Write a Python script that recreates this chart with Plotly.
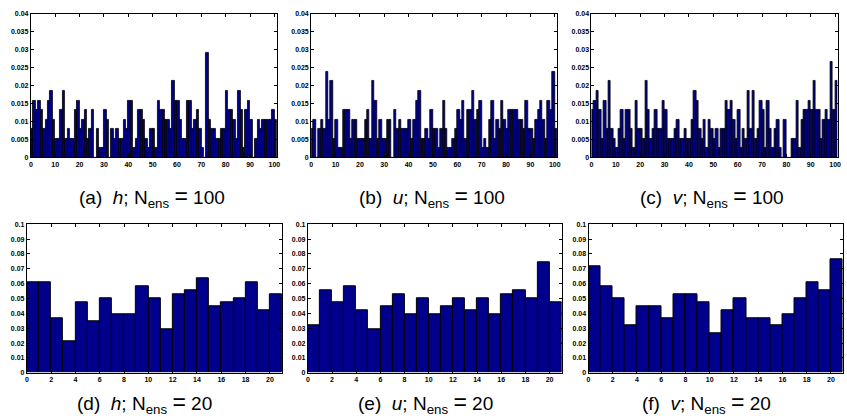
import plotly.graph_objects as go

# ---- data: relative frequency of each rank (rank histograms) ----
ranks_100 = list(range(101))
ranks_20 = list(range(21))

h_100 = [0.0079, 0.0159, 0.0132, 0.0159, 0.0132, 0.0079, 0.0106, 0.0159, 0.0185, 0.0106,
         0.0053, 0.0053, 0.0132, 0.0185, 0.0053, 0.0079, 0.0053, 0.0053, 0.0132, 0.0159,
         0.0079, 0.0106, 0.0132, 0.0053, 0.0079, 0.0132, 0.0, 0.0079, 0.0026, 0.0026,
         0.0132, 0.0106, 0.0, 0.0079, 0.0053, 0.0079, 0.0053, 0.0053, 0.0106, 0.0079,
         0.0159, 0.0159, 0.0026, 0.0053, 0.0132, 0.0132, 0.0106, 0.0053, 0.0026, 0.0079,
         0.0079, 0.0026, 0.0159, 0.0132, 0.0132, 0.0106, 0.0106, 0.0079, 0.0212, 0.0159,
         0.0159, 0.0106, 0.0053, 0.0053, 0.0159, 0.0159, 0.0079, 0.0106, 0.0132, 0.0079,
         0.0026, 0.0, 0.0291, 0.0106, 0.0079, 0.0079, 0.0053, 0.0053, 0.0079, 0.0079,
         0.0185, 0.0132, 0.0132, 0.0106, 0.0053, 0.0185, 0.0132, 0.0026, 0.0132, 0.0159,
         0.0106, 0.0, 0.0053, 0.0106, 0.0079, 0.0106, 0.0106, 0.0106, 0.0106, 0.0132, 0.0106]

u_100 = [0.0079, 0.0106, 0.0, 0.0079, 0.0106, 0.0079, 0.0238, 0.0106, 0.0212, 0.0053,
         0.0106, 0.0026, 0.0026, 0.0132, 0.0132, 0.0132, 0.0053, 0.0106, 0.0106, 0.0053,
         0.0053, 0.0053, 0.0106, 0.0132, 0.0053, 0.0212, 0.0159, 0.0053, 0.0106, 0.0053,
         0.0053, 0.0106, 0.0106, 0.0, 0.0132, 0.0079, 0.0106, 0.0079, 0.0079, 0.0079,
         0.0106, 0.0053, 0.0106, 0.0159, 0.0185, 0.0053, 0.0053, 0.0079, 0.0053, 0.0132,
         0.0079, 0.0079, 0.0026, 0.0079, 0.0159, 0.0079, 0.0026, 0.0026, 0.0053, 0.0079,
         0.0132, 0.0106, 0.0159, 0.0053, 0.0132, 0.0132, 0.0185, 0.0106, 0.0132, 0.0159,
         0.0026, 0.0053, 0.0026, 0.0106, 0.0159, 0.0053, 0.0106, 0.0079, 0.0159, 0.0106,
         0.0079, 0.0132, 0.0132, 0.0132, 0.0132, 0.0106, 0.0106, 0.0079, 0.0159, 0.0079,
         0.0079, 0.0053, 0.0106, 0.0132, 0.0159, 0.0106, 0.0053, 0.0159, 0.0132, 0.0238, 0.0079]

v_100 = [0.0132, 0.0159, 0.0185, 0.0132, 0.0053, 0.0159, 0.0079, 0.0212, 0.0079, 0.0053,
         0.0026, 0.0079, 0.0132, 0.0053, 0.0132, 0.0132, 0.0079, 0.0026, 0.0159, 0.0079,
         0.0079, 0.0053, 0.0212, 0.0132, 0.0053, 0.0079, 0.0132, 0.0079, 0.0079, 0.0159,
         0.0132, 0.0053, 0.0053, 0.0053, 0.0079, 0.0106, 0.0053, 0.0053, 0.0079, 0.0053,
         0.0053, 0.0106, 0.0185, 0.0159, 0.0079, 0.0053, 0.0106, 0.0026, 0.0106, 0.0079,
         0.0053, 0.0079, 0.0026, 0.0079, 0.0079, 0.0159, 0.0132, 0.0159, 0.0106, 0.0053,
         0.0132, 0.0026, 0.0079, 0.0053, 0.0185, 0.0079, 0.0185, 0.0053, 0.0079, 0.0159,
         0.0132, 0.0026, 0.0159, 0.0079, 0.0026, 0.0079, 0.0106, 0.0026, 0.0, 0.0106,
         0.0, 0.0, 0.0053, 0.0053, 0.0159, 0.0026, 0.0106, 0.0132, 0.0132, 0.0159,
         0.0132, 0.0212, 0.0132, 0.0132, 0.0053, 0.0106, 0.0132, 0.0106, 0.0265, 0.0132, 0.0212]

h_20 = [0.0608, 0.0608, 0.0370, 0.0212, 0.0476, 0.0344, 0.0503, 0.0397, 0.0397, 0.0582, 0.0503,
        0.0291, 0.0529, 0.0556, 0.0635, 0.0450, 0.0476, 0.0503, 0.0608, 0.0423, 0.0529]
u_20 = [0.0317, 0.0556, 0.0476, 0.0582, 0.0423, 0.0291, 0.0450, 0.0529, 0.0397, 0.0503, 0.0397,
        0.0450, 0.0503, 0.0423, 0.0503, 0.0397, 0.0529, 0.0556, 0.0503, 0.0741, 0.0476]
v_20 = [0.0714, 0.0582, 0.0503, 0.0317, 0.0450, 0.0450, 0.0370, 0.0529, 0.0529, 0.0476, 0.0265,
        0.0423, 0.0503, 0.0370, 0.0370, 0.0317, 0.0397, 0.0503, 0.0608, 0.0556, 0.0767]

EQ = "<span style='font-size:23px'>=</span>"
captions = [f"(a)&nbsp;&nbsp;<i>h</i>; N<sub>ens</sub> {EQ} 100",
            f"(b)&nbsp;&nbsp;<i>u</i>; N<sub>ens</sub> {EQ} 100",
            f"(c)&nbsp;&nbsp;<i>v</i>; N<sub>ens</sub> {EQ} 100",
            f"(d)&nbsp;&nbsp;<i>h</i>; N<sub>ens</sub> {EQ} 20",
            f"(e)&nbsp;&nbsp;<i>u</i>; N<sub>ens</sub> {EQ} 20",
            f"(f)&nbsp;&nbsp;<i>v</i>; N<sub>ens</sub> {EQ} 20"]

# ---- layout geometry (pixels in an 847x420 canvas) ----
W, H = 847, 420
panels = [
    # (x0, x1, y0_top, y1_bottom)
    (29, 276.5, 10, 156),
    (311, 558.5, 10, 156),
    (593, 840.5, 10, 156),
    (25, 281.7, 224, 375),
    (307.7, 563, 224, 375),
    (590, 846, 224, 375),
]
caption_pos = [(151, 196), (433, 196), (714, 196), (143, 406), (426, 406), (709, 406)]

series = [(ranks_100, h_100), (ranks_100, u_100), (ranks_100, v_100),
          (ranks_20, h_20), (ranks_20, u_20), (ranks_20, v_20)]

BAR = "rgb(0,0,140)"
FONT = "Liberation Sans, Arial, sans-serif"

fig = go.Figure()
layout = dict(
    width=W, height=H, margin=dict(l=0, r=0, t=0, b=0),
    paper_bgcolor="white", plot_bgcolor="white", showlegend=False,
    bargap=0, annotations=[],
)

for k, ((xs, ys), (x0, x1, yt, yb)) in enumerate(zip(series, panels)):
    n = k + 1
    xa = "x" if n == 1 else f"x{n}"
    ya = "y" if n == 1 else f"y{n}"
    top = k < 3
    fig.add_trace(go.Bar(
        x=xs, y=ys, width=1, offset=0,
        marker=dict(color=BAR, line=dict(color="black", width=0.8 if top else 1)),
        xaxis=xa, yaxis=ya, hoverinfo="skip",
    ))
    axcommon = dict(
        showline=True, linecolor="black", linewidth=1, mirror="ticks",
        ticks="inside", ticklen=3, tickwidth=1, tickcolor="black",
        showgrid=False, zeroline=False,
        tickfont=dict(family=FONT, size=7, color="black", weight="bold"),
    )
    xkey = "xaxis" if n == 1 else f"xaxis{n}"
    ykey = "yaxis" if n == 1 else f"yaxis{n}"
    layout[xkey] = dict(
        axcommon, domain=[x0 / W, x1 / W], anchor=ya,
        range=[0, 101] if top else [0, 21],
        tick0=0, dtick=10 if top else 2,
    )
    layout[ykey] = dict(
        axcommon, domain=[1 - yb / H, 1 - yt / H], anchor=xa,
        range=[0, 0.04] if top else [0, 0.1],
        tick0=0, dtick=0.005 if top else 0.01,
    )
    cx, cy = caption_pos[k]
    layout["annotations"].append(dict(
        text=captions[k], x=cx / W, y=1 - cy / H, xref="paper", yref="paper",
        showarrow=False, xanchor="center", yanchor="middle",
        font=dict(family=FONT, size=19, color="black"),
    ))

fig.update_layout(**layout)
fig.write_html(
    "out.html",
    config={"displayModeBar": False},
    post_script="document.body.style.margin='0';document.body.style.overflow='hidden';",
)
